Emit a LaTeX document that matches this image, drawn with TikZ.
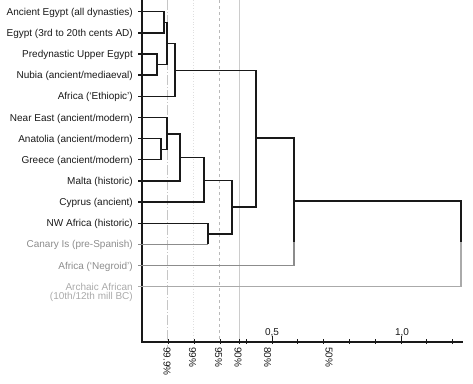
\documentclass[tikz,border=0pt]{standalone}
\usepackage{fontspec}
\setmainfont{Liberation Sans}
\usetikzlibrary{calc}
\definecolor{ink}{RGB}{25,25,25}
\definecolor{ash}{RGB}{140,140,140}
\definecolor{fog}{RGB}{170,170,170}
\tikzset{
  leaf/.style={anchor=east,inner xsep=5pt,inner ysep=0pt,text height=8pt,text depth=0.8pt,
    font=\fontsize{10}{12}\selectfont,text=#1},
  leaf/.default=ink,
  branch/.style={draw=#1,line width=1.4pt},
  branch/.default=ink,
  guide/.style={draw=#1,line width=0.7pt},
  axisline/.style={draw=ink,line width=1.7pt},
  pct/.style={rotate=-90,anchor=west,inner sep=0pt,font=\fontsize{10}{12}\selectfont,text=ink},
  tick lbl/.style={inner sep=0pt,font=\fontsize{10}{12}\selectfont,text=ink},
}
\begin{document}
\begin{tikzpicture}[x=1pt,y=-1pt]
  \useasboundingbox (0,0) rectangle (473,383);
  % significance lines
  \draw[guide=gray!45,dash pattern=on 10pt off 2pt on 1pt off 2pt] (167,0) -- (167,347);
  \draw[guide=gray!25,dotted] (193,0) -- (193,342);
  \draw[guide=gray!55,dashed] (219,0) -- (219,342);
  \draw[guide=gray!40] (239,0) -- (239,342);
  % axes
  \coordinate (o) at (142,342);
  \draw[axisline] (142,0) -- (o) -- (463,342);
  \foreach \t in {1,...,12}
    \draw[ink,line width=0.7pt] ({143+25.8*\t},339) -- ++(0,5);
  \draw[ink,line width=0.7pt] (239,339) -- ++(0,5);
  \draw[ink,line width=0.9pt] (272,336) -- ++(0,8) (401,336) -- ++(0,8);
  \node[tick lbl] (h05) at (272,333) {0,5};
  \node[tick lbl] (h10) at (402,333) {1,0};
  \foreach \x/\p [count=\k] in {167/99.9,192.5/99,218.5/95,238/90,267.5/80,329/50}
    \node[pct] (pc\k) at (\x,347) {\p\%};
  % leaves
  \foreach \i/\txt/\col in {0/{Ancient Egypt (all dynasties)}/ink,
      1/{Egypt (3rd to 20th cents AD)}/ink,
      2/{Predynastic Upper Egypt}/ink,
      3/{Nubia (ancient/mediaeval)}/ink,
      4/{Africa (`Ethiopic')}/ink,
      5/{Near East (ancient/modern)}/ink,
      6/{Anatolia (ancient/modern)}/ink,
      7/{Greece (ancient/modern)}/ink,
      8/{Malta (historic)}/ink,
      9/{Cyprus (ancient)}/ink,
      10/{NW Africa (historic)}/ink,
      11/{Canary Is (pre-Spanish)}/ash,
      12/{Africa (`Negroid')}/ash,
      13/{Archaic African}/fog}
    \node[leaf=\col] (n\i) at (138,{11.7+21.15*\i}) {\txt};
  \node[leaf=fog,anchor=north east] (n13b) at (n13.south east) {(10th/12th mill BC)};
  % merge points
  \coordinate (m1) at (164,22.3);
  \coordinate (m2) at (157,64.6);
  \coordinate (m3) at (167,43.4);
  \coordinate (m4) at (175,70.5);
  \coordinate (m5) at (161,149.2);
  \coordinate (m6) at (167,133.8);
  \coordinate (m7) at (180,157.6);
  \coordinate (m8) at (204,180.3);
  \coordinate (m9) at (208,233.8);
  \coordinate (m10) at (232,207);
  \coordinate (m11) at (256,138);
  \coordinate (m12) at (294,201);
  \coordinate (m13) at (461,244);
  \coordinate (c12) at (294,242);
  \coordinate (c13) at (461,242);
  % tree
  \draw[branch] (n0.east) -| (m1) |- (n1.east);
  \draw[branch] (n2.east) -| (m2) |- (n3.east);
  \draw[branch] (m1) -| (m3) |- (m2);
  \draw[branch] (m3) -| (m4) |- (n4.east);
  \draw[branch] (n6.east) -| (m5) |- (n7.east);
  \draw[branch] (n5.east) -| (m6) |- (m5);
  \draw[branch] (m6) -| (m7) |- (n8.east);
  \draw[branch] (m7) -| (m8) |- (n9.east);
  \draw[branch] (n10.east) -| (m9) -- (m9 |- n11.east);
  \draw[branch=ash] (m9 |- n11.east) -- (n11.east);
  \draw[branch] (m8) -| (m10) |- (m9);
  \draw[branch] (m4) -| (m11) |- (m10);
  \draw[branch] (m11) -| (m12) -- (c12);
  \draw[branch=ash] (c12) |- (n12.east);
  \draw[branch] (m12) -| (m13) -- (c13);
  \draw[branch=fog] (c13) |- (n13.east);
\end{tikzpicture}
\end{document}
